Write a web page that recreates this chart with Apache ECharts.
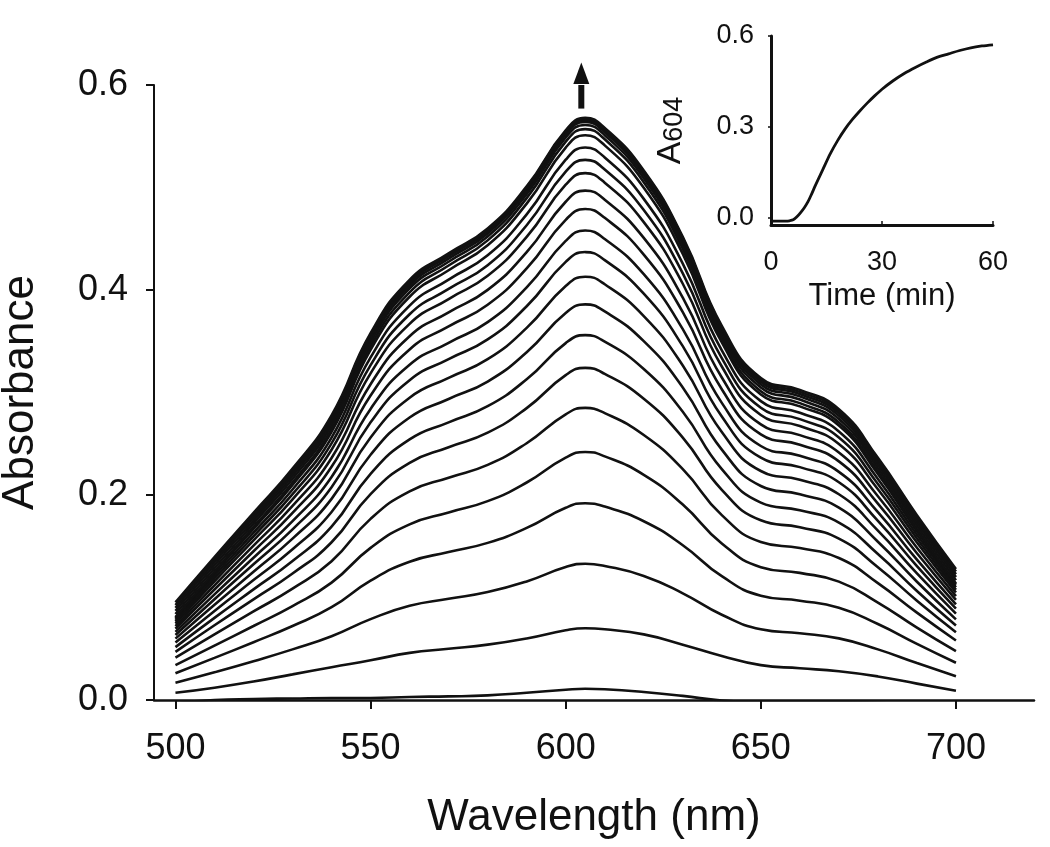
<!DOCTYPE html>
<html><head><meta charset="utf-8">
<script src="https://cdn.jsdelivr.net/npm/echarts@6/dist/echarts.min.js"></script>
<style>html,body{margin:0;padding:0;background:#fff}#c{width:1050px;height:847px}</style>
</head><body><div id="c"></div>
<script>
// ---- Main panel data: absorbance spectra recorded over time ----
const wavelengths = [500,510,520,530,540,550,560,570,580,590,600,605,610,620,630,640,650,660,670,680,690,700];
const spec01 = [-0.003,0.000,0.001,0.0015,0.002,0.002,0.003,0.0035,0.0045,0.007,0.010,0.011,0.0105,0.0078,0.004,-0.0005,-0.002,-0.002,-0.002,-0.003,-0.004,-0.005];
const spec02 = [0.007,0.012,0.018,0.025,0.032,0.0387,0.046,0.050,0.054,0.060,0.068,0.070,0.069,0.064,0.054,0.043,0.034,0.031,0.028,0.023,0.016,0.009];
const spec03 = [0.0169,0.0271,0.0379,0.0494,0.0622,0.0789,0.0919,0.0987,0.1053,0.1157,0.1297,0.133,0.1308,0.121,0.1041,0.0832,0.069,0.0651,0.0601,0.0494,0.036,0.0231];
const spec04 = [0.0261,0.0411,0.0564,0.0722,0.0905,0.1165,0.1349,0.1443,0.1533,0.1679,0.1875,0.192,0.1887,0.1744,0.151,0.1208,0.1018,0.0969,0.09,0.0741,0.0547,0.0363];
const spec05 = [0.034,0.0531,0.0722,0.0916,0.1145,0.1484,0.1714,0.183,0.194,0.2122,0.2365,0.242,0.2377,0.2197,0.1907,0.1527,0.1296,0.124,0.1155,0.0951,0.0707,0.0476];
const spec06 = [0.0413,0.0641,0.0864,0.1086,0.1354,0.1767,0.2035,0.2169,0.2294,0.2505,0.2787,0.285,0.2799,0.2585,0.2252,0.1804,0.1542,0.1482,0.1385,0.114,0.0852,0.0581];
const spec07 = [0.047,0.0729,0.0982,0.1234,0.1539,0.2009,0.2313,0.2466,0.2608,0.2848,0.3169,0.324,0.3182,0.2939,0.256,0.2051,0.1753,0.1685,0.1575,0.1296,0.0969,0.0661];
const spec08 = [0.0516,0.0801,0.1079,0.1356,0.1691,0.2207,0.2542,0.2709,0.2866,0.3129,0.3482,0.356,0.3496,0.3229,0.2812,0.2253,0.1926,0.1851,0.173,0.1424,0.1064,0.0726];
const spec09 = [0.056,0.0869,0.117,0.1471,0.1834,0.2393,0.2756,0.2937,0.3107,0.3393,0.3775,0.386,0.3791,0.3501,0.3049,0.2443,0.2088,0.2007,0.1876,0.1544,0.1154,0.0787];
const spec10 = [0.0599,0.0929,0.1251,0.1574,0.1962,0.2561,0.2949,0.3143,0.3325,0.363,0.4039,0.413,0.4056,0.3746,0.3263,0.2614,0.2234,0.2148,0.2007,0.1652,0.1235,0.0843];
const spec11 = [0.0634,0.0983,0.1324,0.1665,0.2076,0.2709,0.312,0.3326,0.3518,0.3841,0.4274,0.437,0.4291,0.3964,0.3452,0.2766,0.2364,0.2272,0.2124,0.1748,0.1307,0.0891];
const spec12 = [0.0664,0.1031,0.1388,0.1745,0.2176,0.284,0.327,0.3485,0.3687,0.4026,0.4479,0.458,0.4498,0.4154,0.3618,0.2899,0.2478,0.2382,0.2226,0.1832,0.1369,0.0934];
const spec13 = [0.0695,0.1078,0.1451,0.1825,0.2275,0.297,0.342,0.3645,0.3856,0.421,0.4685,0.479,0.4704,0.4345,0.3784,0.3032,0.2591,0.2491,0.2328,0.1916,0.1432,0.0977];
const spec14 = [0.0721,0.1118,0.1506,0.1894,0.2361,0.3081,0.3549,0.3782,0.4001,0.4369,0.4861,0.497,0.4881,0.4508,0.3926,0.3146,0.2689,0.2584,0.2415,0.1988,0.1486,0.1014];
const spec15 = [0.0745,0.1157,0.1557,0.1958,0.2442,0.3187,0.367,0.3912,0.4138,0.4518,0.5027,0.514,0.5047,0.4662,0.4061,0.3254,0.2781,0.2673,0.2498,0.2056,0.1537,0.1049];
const spec16 = [0.0764,0.1186,0.1597,0.2008,0.2503,0.3267,0.3763,0.401,0.4242,0.4632,0.5154,0.527,0.5175,0.478,0.4163,0.3336,0.2851,0.274,0.2561,0.2108,0.1576,0.1075];
const spec17 = [0.0782,0.1213,0.1633,0.2054,0.256,0.3342,0.3848,0.4102,0.4339,0.4738,0.5271,0.539,0.5293,0.4889,0.4258,0.3412,0.2916,0.2803,0.262,0.2156,0.1612,0.11];
const spec18 = [0.0799,0.124,0.167,0.2099,0.2617,0.3416,0.3934,0.4193,0.4436,0.4843,0.5389,0.551,0.5411,0.4998,0.4353,0.3488,0.2981,0.2865,0.2678,0.2204,0.1647,0.1124];
const spec19 = [0.0808,0.1253,0.1688,0.2122,0.2646,0.3453,0.3977,0.4239,0.4484,0.4896,0.5447,0.557,0.547,0.5052,0.44,0.3526,0.3013,0.2896,0.2707,0.2228,0.1665,0.1136];
const spec20 = [0.0839,0.1285,0.1721,0.2156,0.2681,0.3489,0.4015,0.4276,0.4522,0.4935,0.5488,0.561,0.551,0.5091,0.4438,0.3562,0.3049,0.2931,0.2741,0.2262,0.1698,0.1168];
const spec21 = [0.0869,0.1316,0.1751,0.2186,0.2711,0.352,0.4044,0.4306,0.4552,0.4965,0.5517,0.564,0.5539,0.5121,0.4469,0.3592,0.3079,0.2962,0.2772,0.2292,0.1728,0.1199];
const spec22 = [0.0898,0.1344,0.1778,0.2212,0.2736,0.3543,0.4067,0.4329,0.4574,0.4986,0.5537,0.566,0.556,0.5142,0.449,0.3616,0.3103,0.2986,0.2797,0.2318,0.1755,0.1227];
const spec23 = [0.0925,0.1369,0.1802,0.2234,0.2756,0.3561,0.4082,0.4344,0.4587,0.4999,0.5548,0.567,0.557,0.5154,0.4504,0.3633,0.3122,0.3006,0.2818,0.234,0.1779,0.1253];
const spec24 = [0.0952,0.1394,0.1826,0.2257,0.2777,0.3579,0.4099,0.4358,0.4601,0.5011,0.5558,0.568,0.5581,0.5166,0.4519,0.365,0.3142,0.3026,0.2837,0.2362,0.1803,0.1278];
const spectra = [spec01,spec02,spec03,spec04,spec05,spec06,spec07,spec08,spec09,spec10,spec11,spec12,
                 spec13,spec14,spec15,spec16,spec17,spec18,spec19,spec20,spec21,spec22,spec23,spec24];

const mainXTicks = [500,550,600,650,700];
const mainYTicks = [0.0,0.2,0.4,0.6];

// arrow annotation (data coordinates)
const arrowX = 604;
const arrowBase = 0.577, arrowHeadBase = 0.601, arrowTip = 0.622;

// ---- Inset data: A604 vs time ----
const insetTime = [0,2,4,5,6,7,8,9,10,11,12,14,16,18,20,22,24,26,28,30,33,36,39,42,45,48,51,54,57,60];
const insetA604 = [-0.012,-0.012,-0.012,-0.011,-0.008,0.002,0.016,0.032,0.052,0.078,0.106,0.158,0.21,0.254,0.292,0.324,0.352,0.378,0.402,0.424,0.452,0.476,0.496,0.514,0.53,0.541,0.552,0.561,0.567,0.571];
const insetXTicks = [0,30,60];
const insetYTicks = [0.0,0.3,0.6];

const FONT = "'Liberation Sans', Arial, Helvetica, sans-serif";
const INK = '#111';

const chart = echarts.init(document.getElementById('c'), null, {renderer:'canvas'});

const series = spectra.map(s => ({
  type:'line', xAxisIndex:0, yAxisIndex:0,
  data: wavelengths.map((w,i)=>[w, s[i]]),
  showSymbol:false, smooth:0.5, clip:true, silent:true,
  lineStyle:{color:INK, width:2.6}
}));
series.push({
  type:'line', xAxisIndex:1, yAxisIndex:1,
  data: insetTime.map((t,i)=>[t, insetA604[i]]),
  showSymbol:false, smooth:0.3, clip:true, silent:true,
  lineStyle:{color:INK, width:2.8}
});

const option = {
  animation:false,
  backgroundColor:'#fff',
  grid:[
    {left:154, right:16, top:85, bottom:147, containLabel:false, outerBoundsMode:'none'},
    {left:771, width:222, top:36, height:189, containLabel:false, outerBoundsMode:'none'}
  ],
  xAxis:[
    {type:'value', gridIndex:0, min:494.5, max:720,
     axisLine:{show:true, onZero:false, lineStyle:{color:INK, width:2.5}},
     axisTick:{show:true, customValues:mainXTicks, length:9, lineStyle:{color:INK, width:2}},
     axisLabel:{customValues:mainXTicks, margin:31, fontSize:36, color:INK, fontFamily:FONT},
     splitLine:{show:false},
     name:'Wavelength (nm)', nameLocation:'middle', nameGap:96,
     nameTextStyle:{fontSize:44, color:INK, fontFamily:FONT}},
    {type:'value', gridIndex:1, min:0, max:60,
     axisLine:{show:true, onZero:false, lineStyle:{color:INK, width:3}},
     axisTick:{show:true, customValues:insetXTicks, inside:true, length:4, lineStyle:{color:INK, width:1.5}},
     axisLabel:{customValues:insetXTicks, margin:24, fontSize:27, color:INK, fontFamily:FONT},
     splitLine:{show:false},
     name:'Time (min)', nameLocation:'middle', nameGap:56,
     nameTextStyle:{fontSize:31, color:INK, fontFamily:FONT}}
  ],
  yAxis:[
    {type:'value', gridIndex:0, min:0, max:0.6, interval:0.2,
     axisLine:{show:true, onZero:false, lineStyle:{color:INK, width:2}},
     axisTick:{show:true, length:8, lineStyle:{color:INK, width:2}},
     axisLabel:{margin:26, fontSize:36, color:INK, fontFamily:FONT, formatter:v=>v.toFixed(1)},
     splitLine:{show:false},
     name:'Absorbance', nameLocation:'middle', nameRotate:90, nameGap:111,
     nameTextStyle:{fontSize:44, color:INK, fontFamily:FONT}},
    {type:'value', gridIndex:1, min:-0.025, max:0.6,
     axisLine:{show:true, onZero:false, lineStyle:{color:INK, width:3}},
     axisTick:{show:true, customValues:insetYTicks, length:3, lineStyle:{color:INK, width:1.5}},
     axisLabel:{customValues:insetYTicks, margin:17, fontSize:27, color:INK, fontFamily:FONT, formatter:v=>v.toFixed(1)},
     splitLine:{show:false},
     name:'{a|A}{s|604}', nameLocation:'middle', nameRotate:90, nameGap:83,
     nameTextStyle:{color:INK, fontFamily:FONT,
       rich:{a:{fontSize:34, color:INK, fontFamily:FONT, verticalAlign:'bottom'},
             s:{fontSize:27, color:INK, fontFamily:FONT, verticalAlign:'bottom'}}}}
  ],
  series: series
};
chart.setOption(option);

// arrow drawn from data coordinates through the chart's own scale
const pBase = chart.convertToPixel({gridIndex:0}, [arrowX, arrowBase]);
const pHead = chart.convertToPixel({gridIndex:0}, [arrowX, arrowHeadBase]);
const pTip  = chart.convertToPixel({gridIndex:0}, [arrowX, arrowTip]);
chart.setOption({
  graphic:[
    {type:'line', shape:{x1:pBase[0], y1:pBase[1], x2:pHead[0], y2:pHead[1]+1},
     style:{stroke:INK, lineWidth:6}},
    {type:'polygon', shape:{points:[[pHead[0]-8,pHead[1]],[pHead[0]+8,pHead[1]],[pTip[0],pTip[1]]]},
     style:{fill:INK}}
  ]
});
</script>
</body></html>
